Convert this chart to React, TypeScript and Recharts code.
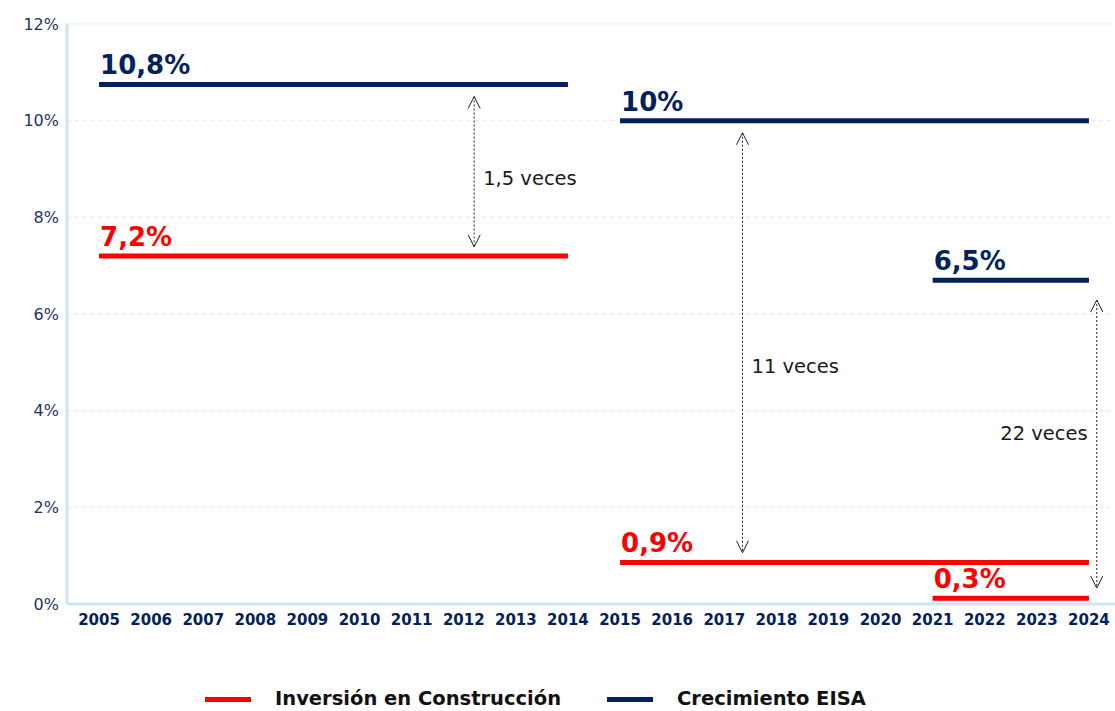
import React from 'react';
import {
  ComposedChart,
  Line,
  XAxis,
  YAxis,
  CartesianGrid,
  ReferenceLine,
  LabelList,
  Legend,
} from 'recharts';

const years = [
  2005, 2006, 2007, 2008, 2009, 2010, 2011, 2012, 2013, 2014,
  2015, 2016, 2017, 2018, 2019, 2020, 2021, 2022, 2023, 2024,
];
const yTicks = [0, 2, 4, 6, 8, 10, 12];

// periods (from / to year) and the level of each horizontal segment
const periodFrom = [2005, 2015, 2021];
const periodTo = [2014, 2024, 2024];
const eisaValues = [10.75, 10.0, 6.7];
const eisaLabels = ['10,8%', '10%', '6,5%'];
const invValues = [7.2, 0.86, 0.12];
const invLabels = ['7,2%', '0,9%', '0,3%'];

const legendNames = ['Inversión en Construcción', 'Crecimiento EISA'];

// "x veces" arrows between levels
const arrowYears = [2012.2, 2017.35, 2024.15];
const arrowTop = [10.5, 9.75, 6.29];
const arrowBottom = [7.39, 1.06, 0.33];
const arrowTexts = ['1,5 veces', '11 veces', '22 veces'];
const arrowTextAt = [8.8, 4.93, 3.54];

const NAVY = '#02225e';
const RED = '#ff0000';
const FONT = '"DejaVu Sans", sans-serif';

const segment = (i: number, values: number[]) => [
  { year: periodFrom[i], v: values[i] },
  { year: periodTo[i], v: values[i] },
];

const makeLabel = (text: string, color: string) => (props: any) => {
  const { x, y, index } = props;
  if (index !== 0) return null;
  return (
    <text x={x + 1} y={y - 10} fill={color} fontSize={26} fontWeight={700} fontFamily={FONT}>
      {text}
    </text>
  );
};

const makeArrow = (i: number) => (props: any) => {
  const { x1, y1, x2, y2 } = props;
  const top = Math.min(y1, y2);
  const bottom = Math.max(y1, y2);
  const x = x1;
  const frac = (arrowTop[i] - arrowTextAt[i]) / (arrowTop[i] - arrowBottom[i]);
  const ty = top + frac * (bottom - top);
  const leftSide = i === 2;
  return (
    <g>
      <line x1={x} y1={top} x2={x2} y2={bottom} stroke="#222" strokeWidth={1} strokeDasharray="2 2" />
      <path d={`M${x - 6},${top + 12} L${x},${top} L${x + 6},${top + 12}`} fill="none" stroke="#222" strokeWidth={1} />
      <path d={`M${x - 6},${bottom - 12} L${x},${bottom} L${x + 6},${bottom - 12}`} fill="none" stroke="#222" strokeWidth={1} />
      <text
        x={leftSide ? x - 9 : x + 9}
        y={ty}
        dy="0.35em"
        textAnchor={leftSide ? 'end' : 'start'}
        fontSize={19.5}
        fill="#1a1a1a"
        fontFamily={FONT}
      >
        {arrowTexts[i]}
      </text>
    </g>
  );
};

const LegendContent = () => (
  <div
    style={{
      height: 71,
      display: 'flex',
      alignItems: 'flex-end',
      paddingLeft: 205,
      paddingBottom: 1,
      fontFamily: FONT,
      fontWeight: 700,
      fontSize: 19.5,
      color: '#111',
      lineHeight: '22px',
      boxSizing: 'border-box',
    }}
  >
    {legendNames.map((name, i) => (
      <div key={name} style={{ display: 'flex', alignItems: 'center', marginRight: 46 }}>
        <span style={{ display: 'inline-block', width: 46, height: 5, background: i === 0 ? RED : NAVY, marginRight: 24 }} />
        <span>{name}</span>
      </div>
    ))}
  </div>
);

const App: React.FC = () => {
  return (
    <div style={{ position: 'absolute', left: 0, top: 0, width: 1115, height: 711, background: '#fff' }}>
      <ComposedChart width={1115} height={711} margin={{ top: 24, right: 0, bottom: 0, left: 0 }}>
        <CartesianGrid horizontal vertical={false} stroke="#d3e6f7" strokeDasharray="4 4" />
        <XAxis
          type="number"
          dataKey="year"
          domain={[2004.5, 2024.5]}
          ticks={years}
          interval={0}
          padding={{ left: 6, right: 0 }}
          height={36}
          tickLine={false}
          tickMargin={4}
          axisLine={{ stroke: '#cde4f8', strokeWidth: 3 }}
          tick={{ fill: NAVY, fontSize: 15, fontWeight: 700, fontFamily: FONT }}
          allowDataOverflow
        />
        <YAxis
          type="number"
          domain={[0, 12]}
          ticks={yTicks}
          width={67}
          tickLine={false}
          axisLine={{ stroke: '#cde4f8', strokeWidth: 3 }}
          tickFormatter={(v) => `${v}%`}
          tick={{ fill: '#1d3560', fontSize: 16, fontFamily: FONT }}
        />
        <Legend verticalAlign="bottom" height={71} content={() => <LegendContent />} />
        {periodFrom.map((_, i) => (
          <Line
            key={`eisa-${i}`}
            data={segment(i, eisaValues)}
            dataKey="v"
            name={legendNames[1]}
            stroke={NAVY}
            strokeWidth={5}
            dot={false}
            activeDot={false}
            isAnimationActive={false}
          >
            <LabelList dataKey="v" content={makeLabel(eisaLabels[i], NAVY)} />
          </Line>
        ))}
        {periodFrom.map((_, i) => (
          <Line
            key={`inv-${i}`}
            data={segment(i, invValues)}
            dataKey="v"
            name={legendNames[0]}
            stroke={RED}
            strokeWidth={5}
            dot={false}
            activeDot={false}
            isAnimationActive={false}
          >
            <LabelList dataKey="v" content={makeLabel(invLabels[i], RED)} />
          </Line>
        ))}
        {arrowYears.map((yr, i) => (
          <ReferenceLine
            key={`arrow-${i}`}
            segment={[
              { x: yr, y: arrowTop[i] },
              { x: yr, y: arrowBottom[i] },
            ]}
            ifOverflow="visible"
            shape={makeArrow(i)}
          />
        ))}
      </ComposedChart>
    </div>
  );
};

export default App;
